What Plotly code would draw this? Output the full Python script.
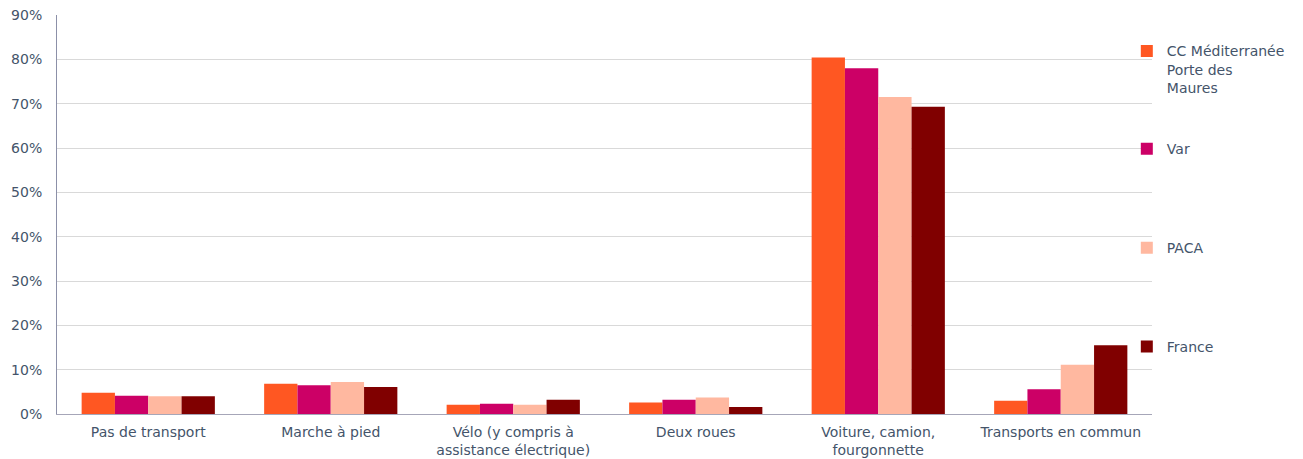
import plotly.graph_objects as go

categories = ["Pas de transport", "Marche à pied", "Vélo (y compris à<br>assistance électrique)",
              "Deux roues", "Voiture, camion,<br>fourgonnette", "Transports en commun"]

cc_mpm = [4.8, 6.8, 2.1, 2.6, 80.4, 3.0]
var = [4.1, 6.5, 2.3, 3.2, 78.0, 5.6]
paca = [4.0, 7.2, 2.1, 3.7, 71.5, 11.1]
france = [4.0, 6.1, 3.2, 1.6, 69.3, 15.5]

series_names = ["CC Méditerranée<br>Porte des<br>Maures", "Var", "PACA", "France"]
colors = ["#FF5722", "#CC0066", "#FFB8A0", "#800000"]
legend_ids = ["legend", "legend2", "legend3", "legend4"]
legend_y = [0.949, 0.704, 0.456, 0.208]

txt = "#44546A"
font = dict(family="DejaVu Sans", size=14, color=txt)

fig = go.Figure()
for name, vals, col, lg in zip(series_names, [cc_mpm, var, paca, france], colors, legend_ids):
    fig.add_trace(go.Bar(x=categories, y=[v / 100 for v in vals], name=name, showlegend=True,
                         marker=dict(color=col, line=dict(width=0)), legend=lg))

layout_legends = {}
for lg, y in zip(legend_ids, legend_y):
    layout_legends[lg] = dict(x=0.977, xanchor="left", y=y, yanchor="top", font=font,
                              bgcolor="rgba(0,0,0,0)", valign="top", itemwidth=30, visible=True)

# page has an 8px body margin, so the figure is a bit smaller than the window
fig.update_layout(
    width=1295, height=451,
    margin=dict(l=49, r=151, t=7, b=45, autoexpand=False),
    paper_bgcolor="white", plot_bgcolor="white",
    barmode="group", bargap=0.27, bargroupgap=0,
    font=font, showlegend=True,
    xaxis=dict(showline=True, linecolor="#A6A6B8", linewidth=1, ticks="outside", ticklen=5,
               tickcolor="rgba(0,0,0,0)", tickfont=font, automargin=False),
    yaxis=dict(range=[0, 0.9], dtick=0.1, tickformat=".0%", showgrid=True, gridcolor="#D9D9D9",
               showline=True, linecolor="#8C90A8", linewidth=1, zeroline=False, tickfont=font,
               ticks="outside", ticklen=11, tickcolor="rgba(0,0,0,0)", automargin=False,
               ticklabeloverflow="allow"),
    **layout_legends,
)

fig.write_html("out.html")
